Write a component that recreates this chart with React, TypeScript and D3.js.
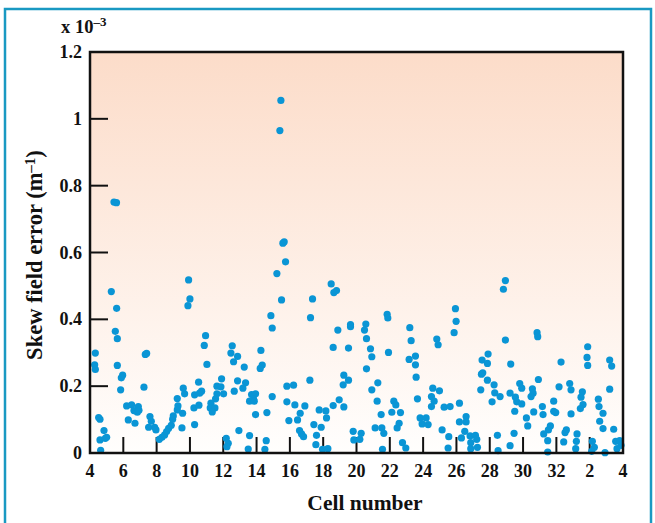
import React, { useRef, useEffect } from 'react';
import * as d3 from 'd3';

// x = position along the cell axis (4..32, then 33..36 stand for cells 1..4), y = skew field error in 1e-3 m^-1
const cells4to10: [number, number][] = [
  [5.44, 0.751], [5.59, 0.749], [5.28, 0.483], [5.60, 0.433], [5.52, 0.364], [5.64, 0.342],
  [4.32, 0.299], [4.28, 0.264], [4.32, 0.250], [5.64, 0.262], [5.96, 0.233], [5.88, 0.225],
  [5.84, 0.189], [7.32, 0.295], [7.40, 0.298], [7.24, 0.197], [4.52, 0.106], [4.60, 0.101],
  [4.84, 0.067], [4.60, 0.039], [4.92, 0.044], [5.00, 0.047], [4.64, 0.008],
  [6.20, 0.141], [6.50, 0.144], [6.90, 0.139], [6.64, 0.127], [6.84, 0.122], [6.30, 0.099],
  [6.70, 0.089], [6.94, 0.128], [7.60, 0.109], [7.68, 0.095], [7.52, 0.077], [7.88, 0.077],
  [7.96, 0.069], [8.16, 0.041], [8.32, 0.047], [8.48, 0.054], [8.60, 0.064], [8.72, 0.074],
  [8.88, 0.083], [8.96, 0.101], [9.00, 0.111], [9.24, 0.129], [9.28, 0.141], [9.24, 0.163],
  [9.60, 0.194], [9.68, 0.177], [9.56, 0.119], [9.52, 0.075], [9.92, 0.518], [10.00, 0.461],
  [9.88, 0.441], [10.28, 0.174], [10.24, 0.135], [10.28, 0.085], [10.52, 0.212],
];

const cells10to17: [number, number][] = [
  [15.66, 0.632], [15.58, 0.628], [15.74, 0.572], [15.22, 0.537], [15.50, 0.458], [14.86, 0.411],
  [14.94, 0.374], [10.94, 0.351], [10.86, 0.322], [11.02, 0.265], [12.54, 0.321], [12.46, 0.299],
  [12.86, 0.289], [12.62, 0.273], [13.26, 0.257], [14.26, 0.307], [14.34, 0.263], [14.22, 0.253],
  [10.70, 0.185], [10.58, 0.179], [11.90, 0.222], [11.62, 0.200], [11.86, 0.198], [12.02, 0.177],
  [11.62, 0.177], [11.54, 0.162], [11.26, 0.149], [11.22, 0.135], [11.50, 0.135], [11.34, 0.123],
  [10.54, 0.143], [12.86, 0.216], [13.34, 0.210], [13.18, 0.194], [12.66, 0.185], [13.70, 0.175],
  [13.94, 0.177], [13.82, 0.161], [13.58, 0.155], [13.86, 0.155], [14.94, 0.169], [13.94, 0.115],
  [14.62, 0.121], [12.94, 0.067], [13.58, 0.052], [12.18, 0.044], [12.30, 0.029], [12.22, 0.019],
  [13.50, 0.012], [14.58, 0.037], [14.50, 0.011], [15.82, 0.200], [16.22, 0.203], [15.82, 0.153],
  [16.30, 0.144], [16.62, 0.119], [16.46, 0.099], [15.94, 0.097], [16.58, 0.067], [16.70, 0.057],
  [16.82, 0.049], [16.90, 0.141], [15.46, 1.055], [15.40, 0.965],
];

const cells17to23: [number, number][] = [
  [18.48, 0.506], [18.64, 0.480], [18.80, 0.486], [17.36, 0.461], [17.24, 0.405], [18.88, 0.368],
  [18.60, 0.316], [19.52, 0.314], [19.64, 0.384], [19.64, 0.378], [20.56, 0.386], [20.48, 0.368],
  [20.60, 0.342], [20.84, 0.312], [20.92, 0.288], [20.60, 0.252], [21.84, 0.415], [21.88, 0.404],
  [21.92, 0.301], [23.20, 0.375], [23.28, 0.336], [23.16, 0.280], [17.20, 0.218], [19.24, 0.233],
  [19.52, 0.218], [19.20, 0.204], [21.28, 0.210], [20.92, 0.189], [17.76, 0.129], [18.16, 0.126],
  [18.20, 0.105], [18.60, 0.142], [18.96, 0.159], [19.24, 0.138], [21.24, 0.155], [22.24, 0.155],
  [22.36, 0.144], [22.12, 0.122], [22.64, 0.121], [21.48, 0.115], [17.44, 0.085], [17.88, 0.077],
  [17.60, 0.053], [17.56, 0.025], [17.96, 0.011], [18.28, 0.013], [19.80, 0.065], [20.28, 0.059],
  [19.84, 0.039], [20.20, 0.041], [21.12, 0.075], [21.52, 0.075], [21.64, 0.059], [21.56, 0.011],
  [22.44, 0.075], [22.56, 0.089], [22.76, 0.031], [22.96, 0.015],
];

const cells23to30: [number, number][] = [
  [28.94, 0.516], [28.82, 0.490], [25.94, 0.432], [25.98, 0.394], [25.86, 0.360], [28.94, 0.338],
  [23.54, 0.290], [23.54, 0.264], [23.58, 0.227], [24.82, 0.341], [24.90, 0.324], [23.66, 0.162],
  [24.58, 0.194], [24.98, 0.186], [24.50, 0.169], [24.66, 0.155], [24.50, 0.139], [25.26, 0.137],
  [25.62, 0.139], [26.18, 0.149], [23.82, 0.105], [24.18, 0.105], [23.94, 0.087], [24.30, 0.085],
  [25.14, 0.069], [25.54, 0.049], [25.50, 0.015], [26.18, 0.093], [26.58, 0.109], [26.58, 0.093],
  [26.30, 0.045], [26.50, 0.065], [26.82, 0.051], [27.14, 0.053], [27.22, 0.041], [26.86, 0.031],
  [26.86, 0.013], [27.26, 0.017], [27.90, 0.296], [27.54, 0.278], [27.86, 0.268], [27.58, 0.240],
  [27.50, 0.236], [27.86, 0.218], [28.26, 0.204], [27.46, 0.189], [28.30, 0.180], [28.62, 0.169],
  [28.14, 0.153], [29.26, 0.266], [29.22, 0.179], [29.54, 0.167], [29.62, 0.153], [29.50, 0.125],
  [28.46, 0.053], [29.22, 0.022], [29.46, 0.059], [28.50, 0.007],
];

const cells30to4: [number, number][] = [
  [30.84, 0.360], [30.88, 0.348], [32.28, 0.272], [33.88, 0.318], [33.84, 0.286], [33.88, 0.262],
  [35.20, 0.278], [35.32, 0.260], [29.80, 0.208], [29.92, 0.194], [30.92, 0.220], [30.56, 0.192],
  [30.60, 0.179], [30.48, 0.169], [29.92, 0.147], [32.16, 0.198], [32.80, 0.208], [32.88, 0.189],
  [33.56, 0.183], [33.48, 0.167], [33.60, 0.145], [33.44, 0.133], [31.84, 0.155], [31.84, 0.125],
  [31.96, 0.121], [31.16, 0.139], [31.20, 0.115], [30.64, 0.123], [30.20, 0.105], [30.28, 0.081],
  [32.88, 0.117], [34.52, 0.161], [34.56, 0.139], [34.80, 0.119], [34.60, 0.095], [34.80, 0.073],
  [35.20, 0.191], [35.44, 0.071], [31.64, 0.081], [31.52, 0.069], [31.24, 0.057], [31.48, 0.037],
  [31.48, 0.003], [32.60, 0.069], [32.52, 0.061], [32.44, 0.033], [33.24, 0.057], [33.20, 0.035],
  [33.16, 0.013], [34.16, 0.035], [34.28, 0.017], [34.12, 0.005], [34.92, 0.001], [35.56, 0.035],
  [35.80, 0.037], [35.88, 0.023], [35.64, 0.013],
];

const xTicks = [6, 8, 10, 12, 14, 16, 18, 20, 22, 24, 26, 28, 30, 32, 34];
const xLabels = ['4', '6', '8', '10', '12', '14', '16', '18', '20', '22', '24', '26', '28', '30', '32', '2', '4'];
const xLabelPos = [4, 6, 8, 10, 12, 14, 16, 18, 20, 22, 24, 26, 28, 30, 32, 34, 36];
const yTicks = [0.2, 0.4, 0.6, 0.8, 1.0];
const yLabels = ['0', '0.2', '0.4', '0.6', '0.8', '1', '1.2'];
const yLabelPos = [0, 0.2, 0.4, 0.6, 0.8, 1.0, 1.2];

const App = () => {
  const svgRef = useRef<SVGSVGElement>(null);

  useEffect(() => {
    const svg = d3.select(svgRef.current);
    svg.selectAll('*').remove();

    const width = 655;
    const height = 523;
    const margin = { top: 52, right: 32, bottom: 70, left: 90 };
    const font = '"Liberation Serif", "Times New Roman", serif';

    const x = d3.scaleLinear()
      .domain([4, 36])
      .range([margin.left, width - margin.right]);

    const y = d3.scaleLinear()
      .domain([0, 1.2])
      .range([height - margin.bottom, margin.top]);

    const defs = svg.append('defs');
    const grad = defs.append('linearGradient')
      .attr('id', 'bg')
      .attr('x1', 0).attr('y1', 0).attr('x2', 0).attr('y2', 1);
    grad.append('stop').attr('offset', '0%').attr('stop-color', '#fcdcc9');
    grad.append('stop').attr('offset', '100%').attr('stop-color', '#fffefd');

    // outer frame
    svg.append('rect')
      .attr('x', 5).attr('y', 9)
      .attr('width', 646).attr('height', 540)
      .attr('fill', 'white')
      .attr('stroke', '#1999c2')
      .attr('stroke-width', 2.5);

    // plot area
    svg.append('rect')
      .attr('x', x(4)).attr('y', y(1.2))
      .attr('width', x(36) - x(4)).attr('height', y(0) - y(1.2))
      .attr('fill', 'url(#bg)');

    // ticks
    svg.append('g')
      .selectAll('line')
      .data(xTicks)
      .join('line')
      .attr('x1', d => x(d)).attr('x2', d => x(d))
      .attr('y1', y(0)).attr('y2', y(0) - 16)
      .attr('stroke', '#111').attr('stroke-width', 2);

    svg.append('g')
      .selectAll('line')
      .data(yTicks)
      .join('line')
      .attr('x1', x(4)).attr('x2', x(4) + 18)
      .attr('y1', d => y(d)).attr('y2', d => y(d))
      .attr('stroke', '#111').attr('stroke-width', 2);

    const allPoints = [...cells4to10, ...cells10to17, ...cells17to23, ...cells23to30, ...cells30to4];

    svg.append('g')
      .selectAll('circle')
      .data(allPoints)
      .join('circle')
      .attr('cx', d => x(d[0]))
      .attr('cy', d => y(d[1]))
      .attr('r', 3.6)
      .attr('fill', '#0a95d5');

    svg.append('rect')
      .attr('x', x(4)).attr('y', y(1.2))
      .attr('width', x(36) - x(4)).attr('height', y(0) - y(1.2))
      .attr('fill', 'none')
      .attr('stroke', '#111')
      .attr('stroke-width', 2.5);

    // tick labels
    svg.append('g')
      .selectAll('text')
      .data(xLabels)
      .join('text')
      .attr('x', (d, i) => x(xLabelPos[i]))
      .attr('y', y(0) + 24)
      .attr('text-anchor', 'middle')
      .attr('font-family', font)
      .attr('font-weight', 'bold')
      .attr('font-size', 18)
      .attr('fill', '#111')
      .text(d => d);

    svg.append('g')
      .selectAll('text')
      .data(yLabels)
      .join('text')
      .attr('x', x(4) - 8)
      .attr('y', (d, i) => y(yLabelPos[i]) + 6)
      .attr('text-anchor', 'end')
      .attr('font-family', font)
      .attr('font-weight', 'bold')
      .attr('font-size', 18)
      .attr('fill', '#111')
      .text(d => d);

    const mult = svg.append('text')
      .attr('x', 61).attr('y', 33)
      .attr('font-family', font)
      .attr('font-weight', 'bold')
      .attr('font-size', 18.5)
      .attr('fill', '#111');
    mult.append('tspan').text('x 10');
    mult.append('tspan').attr('dy', -7).attr('font-size', 13).text('\u20133');

    svg.append('text')
      .attr('x', 365)
      .attr('y', 510)
      .attr('text-anchor', 'middle')
      .attr('font-family', font)
      .attr('font-weight', 'bold')
      .attr('font-size', 21.5)
      .attr('fill', '#111')
      .text('Cell number');

    const yt = svg.append('text')
      .attr('transform', `translate(42,255) rotate(-90)`)
      .attr('text-anchor', 'middle')
      .attr('font-family', font)
      .attr('font-weight', 'bold')
      .attr('font-size', 22.5)
      .attr('fill', '#111');
    yt.append('tspan').text('Skew field error (m');
    yt.append('tspan').attr('dy', -7).attr('font-size', 15).text('\u20131');
    yt.append('tspan').attr('dy', 7).text(')');
  }, []);

  return (
    <svg
      ref={svgRef}
      width={655}
      height={523}
      style={{ position: 'absolute', left: 0, top: 0 }}
    ></svg>
  );
};

export default App;
